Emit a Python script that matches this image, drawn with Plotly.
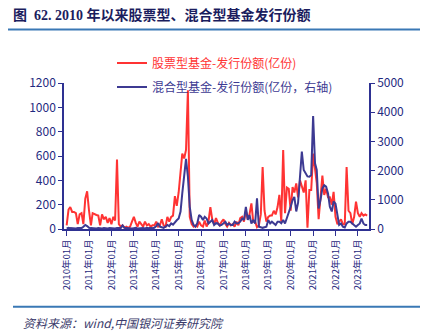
import pandas as pd
import plotly.graph_objects as go

# ---------------- data (monthly, 2010-01 .. 2023-06) ----------------
start_month = "2010-01-01"

stock_issuance = [  # 股票型基金-发行份额(亿份), left axis
    30, 160, 180, 140, 140, 130, 40, 120, 130, 40, 250, 310,      # 2010
    150, 30, 130, 120, 115, 110, 30, 120, 80, 100, 50, 90,        # 2011
    40, 100, 70, 570, 40, 20, 30, 10, 20, 10, 20, 60,             # 2012
    100, 50, 20, 60, 40, 20, 60, 30, 40, 20, 30, 30,              # 2013
    60, 20, 30, 80, 30, 20, 100, 60, 100, 110, 270, 190,          # 2014
    300, 480, 620, 580, 650, 1140, 100, 40, 20, 30, 20, 60,       # 2015
    30, 20, 70, 20, 60, 180, 80, 40, 90, 50, 30, 60,              # 2016
    80, 40, 20, 50, 30, 40, 20, 60, 30, 90, 100, 60,              # 2017
    150, 80, 120, 210, 60, 60, 15, 30, 120, 510, 150, 60,         # 2018
    100, 110, 110, 150, 120, 180, 280, 60, 650, 130, 340, 330,    # 2019
    150, 345, 300, 375, 260, 400, 345, 300, 400, 10, 320, 320,    # 2020
    620, 480, 380, 80, 260, 440, 280, 330, 260, 260, 200, 305,    # 2021
    100, 40, 60, 80, 40, 40, 510, 150, 130, 40, 100, 225,         # 2022
    130, 100, 130, 110, 120, 110,                                 # 2023
]

hybrid_issuance = [  # 混合型基金-发行份额(亿份，右轴), right axis
    20, 40, 30, 20, 30, 20, 30, 40, 30, 80, 140, 100,             # 2010
    40, 30, 20, 30, 20, 30, 20, 20, 30, 20, 20, 30,               # 2011
    20, 30, 20, 30, 20, 30, 120, 40, 30, 20, 30, 20,              # 2012
    30, 40, 20, 30, 20, 30, 20, 40, 30, 20, 30, 40,               # 2013
    100, 200, 80, 60, 40, 80, 140, 100, 190, 150, 250, 300,       # 2014
    360, 600, 1220, 1850, 2400, 1790, 760, 310, 140, 80, 200, 480,  # 2015
    420, 310, 420, 360, 190, 250, 310, 140, 200, 190, 120, 140,   # 2016
    200, 250, 140, 190, 140, 140, 250, 190, 200, 250, 360, 310,   # 2017
    760, 310, 480, 190, 310, 190, 1050, 80, 60, 40, 60, 80,       # 2018
    310, 190, 250, 190, 140, 250, 250, 200, 310, 190, 360, 540,   # 2019
    760, 990, 1100, 600, 900, 1790, 2650, 2020, 1880, 1800, 1790, 1850,  # 2020
    3870, 2250, 2020, 700, 990, 1390, 1500, 1450, 1220, 760, 600, 940,   # 2021
    870, 420, 140, 190, 80, 50, 190, 250, 250, 190, 140, 80,      # 2022
    140, 190, 360, 190, 140, 140,                                 # 2023
]

tick_years = list(range(2010, 2024))
tick_labels = [f"{y}年01月" for y in tick_years]
left_ticks = [0, 200, 400, 600, 800, 1000, 1200]
right_ticks = [0, 1000, 2000, 3000, 4000, 5000]

stock_name = "股票型基金-发行份额(亿份)"
hybrid_name = "混合型基金-发行份额(亿份，右轴)"
title_text = "图  62. 2010 年以来股票型、混合型基金发行份额"
source_text = "资料来源：wind,中国银河证券研究院"

# ---------------- figure ----------------
dates = pd.date_range(start_month, periods=len(stock_issuance), freq="MS")
tick_vals = [pd.Timestamp(f"{y}-01-01") for y in tick_years]

RED = "#FF3333"
BLUE = "#3D3A92"
AXIS = "#2E3192"
TICKTXT = "#1F2A80"
RULE = "#3A78B5"
CJK = "Noto Sans CJK SC"

fig = go.Figure()
fig.add_trace(go.Scatter(x=dates, y=stock_issuance, name=stock_name, mode="lines",
                         line=dict(color=RED, width=2), legend="legend"))
fig.add_trace(go.Scatter(x=dates, y=hybrid_issuance, name=hybrid_name, mode="lines",
                         line=dict(color=BLUE, width=2), yaxis="y2", legend="legend2"))

W, H = 433, 332
L, R, T, B = 64, 64, 83, 103
pw, ph = W - L - R, H - T - B


def px_x(px):
    return (px - L) / pw


def px_y(py):
    return (H - B - py) / ph


fig.update_layout(
    width=W, height=H,
    margin=dict(l=L, r=R, t=T, b=B, pad=0),
    paper_bgcolor="white", plot_bgcolor="white",
    font=dict(family=CJK, size=12, color=TICKTXT),
    title=dict(text=title_text, x=13 / W, xanchor="left", xref="container",
               y=1 - 15 / H, yanchor="middle", yref="container",
               font=dict(family="Liberation Serif, " + CJK, size=14, color="#1B1D5E",
                         weight="bold")),
    showlegend=True,
    legend=dict(x=px_x(112), y=px_y(63), xanchor="left", yanchor="middle",
                bgcolor="rgba(0,0,0,0)", font=dict(family=CJK, size=12, color=RED),
                itemclick=False, itemdoubleclick=False),
    legend2=dict(x=px_x(112), y=px_y(87), xanchor="left", yanchor="middle",
                 bgcolor="rgba(0,0,0,0)", font=dict(family=CJK, size=12, color=BLUE),
                 itemclick=False, itemdoubleclick=False),
    xaxis=dict(type="date", range=["2009-11-19", "2023-07-01"],
               tickvals=tick_vals, ticktext=tick_labels, tickangle=-90,
               ticks="outside", ticklen=5, tickcolor=AXIS, tickwidth=1,
               showline=True, linecolor=AXIS, linewidth=1.5,
               showgrid=False, zeroline=False,
               tickfont=dict(family=CJK, size=9.5, color=TICKTXT)),
    yaxis=dict(range=[0, 1200], tickvals=left_ticks, ticks="outside", ticklen=4,
               tickcolor=AXIS, showline=True, linecolor=AXIS, linewidth=1.5,
               showgrid=False, zeroline=False,
               tickfont=dict(family=CJK, size=12, color=TICKTXT)),
    yaxis2=dict(range=[0, 5000], tickvals=right_ticks, overlaying="y", side="right",
                ticks="outside", ticklen=4, tickcolor=AXIS, showline=True,
                linecolor=AXIS, linewidth=1.5, showgrid=False, zeroline=False,
                tickfont=dict(family=CJK, size=12, color=TICKTXT)),
)

# header and footer rules
fig.add_shape(type="line", xref="paper", yref="paper",
              x0=px_x(8), x1=px_x(420), y0=px_y(29.5), y1=px_y(29.5),
              line=dict(color=RULE, width=2))
fig.add_shape(type="line", xref="paper", yref="paper",
              x0=px_x(13), x1=px_x(420), y0=px_y(306.7), y1=px_y(306.7),
              line=dict(color=RULE, width=2))

fig.add_annotation(text=source_text, xref="paper", yref="paper",
                   x=px_x(21), y=px_y(322), xanchor="left", yanchor="middle",
                   showarrow=False,
                   font=dict(family=CJK, size=12, color="#3B3B6B", style="italic"))

fig.write_html("out.html")
